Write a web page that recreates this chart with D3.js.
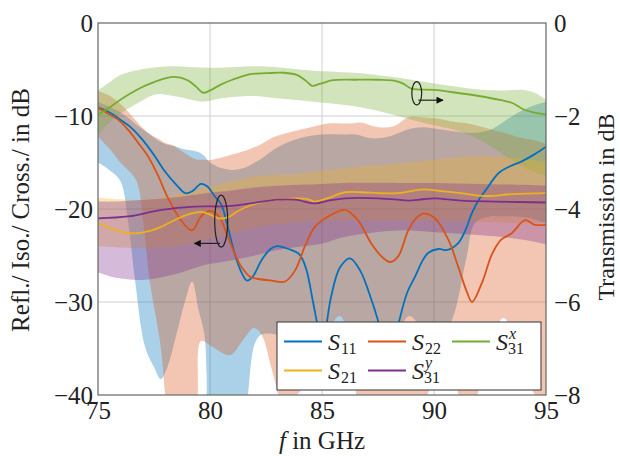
<!DOCTYPE html>
<html><head><meta charset="utf-8">
<script src="https://cdn.jsdelivr.net/npm/d3@7"></script>
<style>body{margin:0;background:#fff}svg{display:block}</style>
</head><body><svg id="c" width="620" height="456"></svg>
<script>
// ---------- data ----------
const xTicks = [75, 80, 85, 90, 95];
const yLeftTicks = [0, -10, -20, -30, -40];
const yRightTicks = [0, -2, -4, -6, -8];

// lines (left axis, dB) — S31x uses right axis
const s11F = [75,75.5,76,76.5,77,77.5,78,78.5,78.9,79.2,79.6,79.9,80.2,80.5,80.8,81.1,81.4,81.65,81.9,82.3,82.7,83.0,83.5,84.0,84.3,84.6,84.85,85.0,85.15,85.4,85.8,86.25,86.7,87.1,87.5,88.0,88.4,88.8,89.15,89.5,89.75,90.2,90.6,91.07,91.4,91.7,92.0,92.3,92.9,93.4,93.9,94.5,95];
const s11V = [-9.1,-9.6,-10.4,-11.3,-12.6,-14.2,-16.0,-17.4,-18.3,-18.1,-17.3,-17.6,-18.6,-19.5,-22.0,-24.8,-26.8,-27.7,-27.3,-25.5,-24.3,-24.0,-24.3,-24.9,-26.5,-30.0,-33.0,-34.0,-33.0,-29.5,-26.3,-25.3,-26.6,-29.0,-32.0,-37.0,-32.5,-29.0,-27.3,-25.5,-24.7,-24.3,-24.4,-23.7,-22.3,-20.4,-19.0,-18.0,-16.1,-15.4,-14.9,-14.1,-13.3];

const s22F = [75,75.5,76,76.35,76.8,77.25,77.7,78.1,78.7,79.2,79.6,80.0,80.4,80.8,81.1,81.4,81.8,82.1,82.75,83.35,83.8,84.24,84.69,85.28,86.03,86.6,87.2,87.7,88.04,88.4,88.85,89.2,89.52,90.04,90.64,91.08,91.45,91.7,92.13,92.6,93.0,93.47,94.06,94.5,95];
const s22V = [-9.1,-9.8,-10.6,-11.5,-12.9,-14.4,-16.5,-18.7,-21.2,-22.3,-20.8,-20.2,-20.8,-23.0,-24.8,-26.2,-27.3,-27.5,-27.7,-27.8,-26.6,-24.0,-21.9,-20.8,-20.1,-21.2,-23.7,-25.2,-25.7,-25.1,-22.3,-21.0,-20.5,-21.0,-23.3,-26.2,-28.8,-30.0,-28.0,-24.8,-23.3,-22.6,-21.2,-21.7,-21.7];

const s21F = [75,75.7,76.35,76.8,77.4,77.84,78.5,79.0,79.6,80.0,80.4,80.8,81.2,81.8,82.4,82.9,83.8,84.3,84.69,85.3,86.03,86.8,87.5,88.4,89.15,89.6,90.04,91.2,92.3,93.5,95];
const s21V = [-21.5,-22.2,-22.6,-22.6,-22.3,-21.9,-21.1,-20.6,-20.3,-20.6,-21.0,-20.9,-20.3,-19.6,-19.2,-19.0,-18.85,-18.9,-19.2,-18.8,-18.2,-18.2,-18.3,-18.3,-18.0,-17.9,-18.0,-18.3,-18.6,-18.4,-18.3];

const s31yF = [75,76.35,77.84,79.3,80.8,81.8,83.0,83.8,84.69,85.3,86.03,87.5,88.4,88.85,89.5,90.04,91.2,92.8,95];
const s31yV = [-21.0,-20.8,-20.1,-19.75,-19.7,-19.4,-19.0,-19.0,-19.4,-19.1,-18.85,-18.85,-19.0,-19.1,-18.95,-18.85,-19.1,-19.2,-19.3];

const s31xF = [75,75.5,76,76.5,77,77.5,78,78.44,79,79.4,79.7,80.0,80.5,81,81.8,82.5,83.3,83.9,84.3,84.55,84.9,85.5,86.5,87.5,88.2,88.6,89.0,90.0,91.0,92.0,93.0,93.5,94.0,94.5,95];
const s31xV = [-1.97,-1.82,-1.65,-1.50,-1.37,-1.27,-1.19,-1.16,-1.23,-1.38,-1.50,-1.45,-1.32,-1.22,-1.10,-1.08,-1.07,-1.12,-1.25,-1.35,-1.31,-1.23,-1.22,-1.22,-1.24,-1.30,-1.41,-1.44,-1.50,-1.57,-1.66,-1.72,-1.86,-1.93,-1.97];

// shaded spread bands (upper / lower)
const s11BandF = [75,75.5,76,76.35,76.65,77.1,77.5,77.8,78.1,78.5,78.9,79.2,79.5,79.75,79.85,80.0,80.5,81.0,81.5,81.7,82.0,82.3,83.0,84.0,85.0,85.8,86.5,87.2,88.0,88.9,89.5,90.2,90.79,91.46,91.83,92.5,93.0,93.7,94.3,95];
const s11BandHi = [-8.5,-9.0,-9.6,-10.2,-10.8,-11.6,-12.3,-12.8,-13.1,-13.3,-13.6,-13.7,-13.9,-14.3,-14.6,-15.0,-15.6,-15.8,-15.6,-15.4,-15.0,-14.6,-13.4,-12.4,-12.0,-12.0,-12.0,-12.4,-12.2,-11.4,-11.2,-11.4,-11.6,-11.8,-11.8,-11.5,-10.8,-9.7,-9.0,-8.5];
const s11BandLo = [-15,-15.8,-17.0,-21.5,-27.6,-34.8,-37.0,-38.3,-37.0,-33.5,-29.8,-27.8,-31.0,-33.5,-38,-46,-46,-46,-46,-40,-34.5,-33.5,-33.5,-34.5,-35,-33,-35,-36,-35,-31.5,-33,-34,-32,-25.1,-21.5,-20.8,-20.8,-20.8,-21.0,-21.5];

const s22BandF = [75,75.5,76,76.7,77.0,77.3,77.8,78.0,78.3,79.0,79.3,79.45,79.6,80.1,80.9,81.5,81.95,82.3,82.8,83.3,84.5,85.3,85.8,86.3,86.7,87.5,88.2,88.9,89.7,90.2,90.8,91.5,92.2,93.1,93.8,94.5,95];
const s22BandHi = [-7.3,-7.8,-8.7,-10.5,-11.3,-11.9,-12.6,-12.9,-13.1,-14.2,-14.6,-14.7,-14.7,-14.7,-14.2,-13.8,-13.4,-13.0,-12.3,-11.9,-11.2,-10.8,-10.8,-10.8,-10.7,-11.2,-11.1,-10.1,-10.2,-10.3,-10.6,-10.8,-11.2,-11.8,-12.3,-12.6,-13.0];
const s22BandLo = [-12.2,-13.5,-15.0,-16.9,-21,-27.6,-34.8,-40,-46,-46,-46,-40,-34.2,-34.8,-35.7,-34.0,-32.8,-33.5,-37.6,-41,-38,-33,-31.5,-35,-41,-42,-41,-42,-40,-36,-38,-42,-38,-31.7,-36,-40,-42];

const s21BandF = [75,77,79,80,81,82,84,86,88,90,92,94,95];
const s21BandHi = [-18.8,-19.0,-18.2,-17.6,-17.0,-16.5,-16.2,-15.6,-15.2,-14.7,-14.3,-14.6,-15.0];
const s21BandLo = [-24.0,-24.2,-23.8,-23.2,-22.6,-22.0,-21.4,-21.2,-21.2,-21.3,-21.4,-21.5,-21.5];

const s31yBandF = [75,75.8,77.1,78.6,79.8,81,82,83,85,86,88.4,90,92,94,95];
const s31yBandHi = [-19.2,-19.2,-19.0,-18.7,-18.3,-18.0,-17.7,-17.5,-17.3,-17.2,-17.2,-17.2,-17.3,-17.4,-17.5];
const s31yBandLo = [-26.8,-27.4,-27.6,-26.9,-26.0,-25.5,-25.0,-24.4,-23.7,-23.0,-22.3,-22.5,-22.8,-23.3,-23.8];

const s31xBandF = [75,75.5,76,77,77.6,78.5,79.7,80.5,81.9,83,84.5,86.7,88,89,90,91.2,92,93,94,94.5,95];
const s31xBandHi = [-1.45,-1.28,-1.12,-0.99,-0.95,-0.93,-0.96,-0.96,-0.93,-0.95,-1.02,-1.08,-1.15,-1.22,-1.30,-1.38,-1.43,-1.45,-1.44,-1.50,-1.65];
const s31xBandLo = [-2.40,-2.15,-1.95,-1.66,-1.53,-1.58,-1.69,-1.62,-1.57,-1.62,-1.69,-1.81,-1.95,-2.08,-2.20,-2.34,-2.50,-2.80,-3.10,-3.20,-3.30];

// ---------- chart ----------
const svg = d3.select("#c");
const L = 98, R = 546, T = 23, B = 395;
const x = d3.scaleLinear().domain([75, 95]).range([L, R]);
const yL = d3.scaleLinear().domain([-40, 0]).range([B, T]);
const yR = d3.scaleLinear().domain([-8, 0]).range([B, T]);
const serif = "'Liberation Serif','DejaVu Serif',serif";
const cBlue = "#0072BD", cOrange = "#D95319", cYellow = "#EDB120", cPurple = "#7E2F8E", cGreen = "#77AC30";

svg.append("defs").append("clipPath").attr("id", "clip")
  .append("rect").attr("x", L).attr("y", T).attr("width", R - L).attr("height", B - T);

// grid
const grid = svg.append("g").attr("stroke", "#d0d0d0").attr("stroke-width", 1);
xTicks.slice(1, -1).forEach(v => grid.append("line").attr("x1", x(v)).attr("x2", x(v)).attr("y1", T).attr("y2", B));
yLeftTicks.slice(1, -1).forEach(v => grid.append("line").attr("x1", L).attr("x2", R).attr("y1", yL(v)).attr("y2", yL(v)));

const plot = svg.append("g").attr("clip-path", "url(#clip)");
const curve = d3.curveCatmullRom.alpha(0.5);

function band(F, hi, lo, ys, color) {
  const data = F.map((f, i) => [f, hi[i], lo[i]]);
  plot.append("path").datum(data)
    .attr("d", d3.area().curve(curve).x(d => x(d[0])).y0(d => ys(d[2])).y1(d => ys(d[1])))
    .attr("fill", color).attr("fill-opacity", 0.33).attr("stroke", "none");
}
band(s11BandF, s11BandHi, s11BandLo, yL, cBlue);
band(s22BandF, s22BandHi, s22BandLo, yL, cOrange);
band(s31xBandF, s31xBandHi, s31xBandLo, yR, cGreen);
band(s21BandF, s21BandHi, s21BandLo, yL, cYellow);
band(s31yBandF, s31yBandHi, s31yBandLo, yL, cPurple);

function line(F, V, ys, color) {
  plot.append("path").datum(F.map((f, i) => [f, V[i]]))
    .attr("d", d3.line().curve(curve).x(d => x(d[0])).y(d => ys(d[1])))
    .attr("fill", "none").attr("stroke", color).attr("stroke-width", 1.8).attr("stroke-linejoin", "round");
}
line(s11F, s11V, yL, cBlue);
line(s22F, s22V, yL, cOrange);
line(s31xF, s31xV, yR, cGreen);
line(s21F, s21V, yL, cYellow);
line(s31yF, s31yV, yL, cPurple);

// annotations (ellipse + arrow)
const defs = svg.select("defs");
defs.append("marker").attr("id", "arr").attr("viewBox", "0 0 10 10").attr("refX", 9).attr("refY", 5)
  .attr("markerWidth", 6).attr("markerHeight", 6).attr("orient", "auto")
  .append("path").attr("d", "M0,0L10,5L0,10z").attr("fill", "#111");
const ann = svg.append("g").attr("fill", "none").attr("stroke", "#222").attr("stroke-width", 1.2);
ann.append("ellipse").attr("cx", x(80.5)).attr("cy", yL(-21.3)).attr("rx", x(80.79) - x(80.5)).attr("ry", yL(-21.3 - 2.8) - yL(-21.3));
ann.append("line").attr("x1", x(80.45)).attr("y1", yL(-23.7)).attr("x2", x(79.3)).attr("y2", yL(-23.7)).attr("marker-end", "url(#arr)");
ann.append("ellipse").attr("cx", x(89.23)).attr("cy", yR(-1.51)).attr("rx", x(89.45) - x(89.23)).attr("ry", yR(-1.51 - 0.25) - yR(-1.51));
ann.append("line").attr("x1", x(89.3)).attr("y1", yR(-1.66)).attr("x2", x(90.4)).attr("y2", yR(-1.66)).attr("marker-end", "url(#arr)");

// box
svg.append("rect").attr("x", L).attr("y", T).attr("width", R - L).attr("height", B - T)
  .attr("fill", "none").attr("stroke", "#666").attr("stroke-width", 1.2);

// axes (labels)
function styleAxis(g) {
  g.select(".domain").remove();
  g.selectAll(".tick line").remove();
  g.selectAll("text").attr("font-family", serif).attr("font-size", 25).attr("fill", "#222");
}
svg.append("g").attr("transform", `translate(${L},0)`)
  .call(d3.axisLeft(yL).tickValues(yLeftTicks).tickSize(0).tickPadding(5)).call(styleAxis);
svg.append("g").attr("transform", `translate(${R},0)`)
  .call(d3.axisRight(yR).tickValues(yRightTicks).tickSize(0).tickPadding(8)).call(styleAxis);
svg.append("g").attr("transform", `translate(0,${B})`)
  .call(d3.axisBottom(x).tickValues(xTicks).tickSize(0).tickPadding(6)).call(styleAxis);

// axis titles
svg.append("text").attr("transform", "translate(29,210) rotate(-90)").attr("text-anchor", "middle")
  .attr("font-family", serif).attr("font-size", 25).attr("fill", "#222").text("Refl./ Iso./ Cross./ in dB");
svg.append("text").attr("transform", "translate(614,207) rotate(-90)").attr("text-anchor", "middle")
  .attr("font-family", serif).attr("font-size", 24).attr("fill", "#222").text("Transmission in dB");
const xl = svg.append("text").attr("x", 322).attr("y", 449).attr("text-anchor", "middle")
  .attr("font-family", serif).attr("font-size", 25).attr("fill", "#222");
xl.append("tspan").attr("font-style", "italic").text("f");
xl.append("tspan").text(" in GHz");

// legend
const leg = svg.append("g");
leg.append("rect").attr("x", 277).attr("y", 322).attr("width", 264).attr("height", 68)
  .attr("fill", "#fff").attr("stroke", "#444").attr("stroke-width", 1.1);
const legendItems = [
  {c: cBlue, sub: "11", sup: "", lx: 284, row: 0},
  {c: cOrange, sub: "22", sup: "", lx: 368, row: 0},
  {c: cGreen, sub: "31", sup: "x", lx: 452, row: 0},
  {c: cYellow, sub: "21", sup: "", lx: 284, row: 1},
  {c: cPurple, sub: "31", sup: "y", lx: 368, row: 1}
];
legendItems.forEach(it => {
  const ly = it.row === 0 ? 341.5 : 370.5;
  leg.append("line").attr("x1", it.lx).attr("x2", it.lx + 38).attr("y1", ly).attr("y2", ly)
    .attr("stroke", it.c).attr("stroke-width", 1.8);
  const t = leg.append("text").attr("x", it.lx + 44).attr("y", ly + 8)
    .attr("font-family", serif).attr("fill", "#222");
  t.append("tspan").attr("font-style", "italic").attr("font-size", 24).text("S");
  if (it.sup) {
    t.append("tspan").attr("font-style", "italic").attr("font-size", 16).attr("dx", 1).attr("dy", -11).text(it.sup);
    t.append("tspan").attr("font-size", 16).attr("dx", -8).attr("dy", 15).text(it.sub);
  } else {
    t.append("tspan").attr("font-size", 16).attr("dx", 1).attr("dy", 4).text(it.sub);
  }
});
</script></body></html>
